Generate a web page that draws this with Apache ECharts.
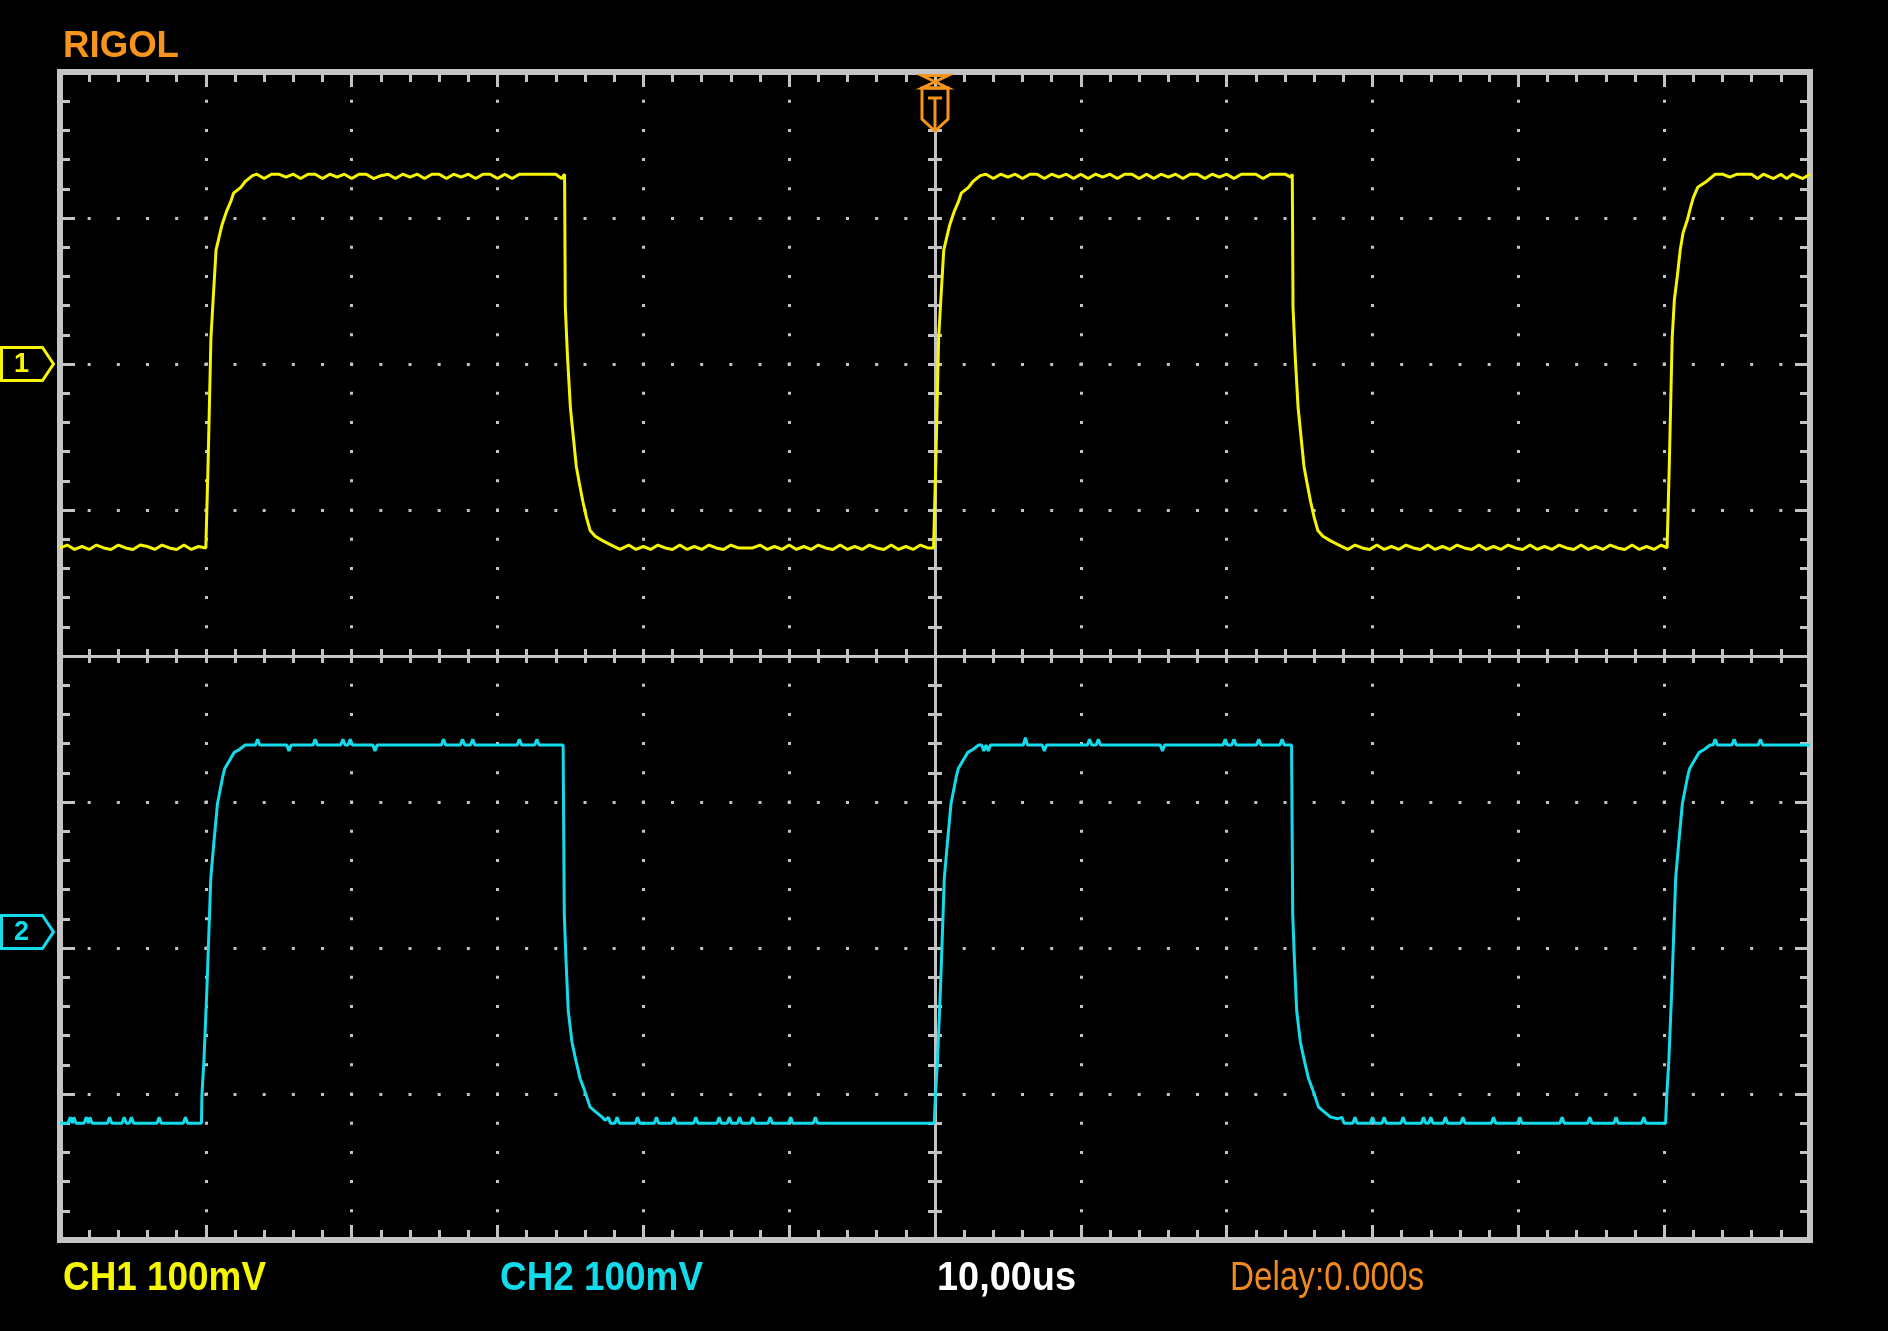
<!DOCTYPE html>
<html><head><meta charset="utf-8">
<script src="https://cdn.jsdelivr.net/npm/echarts@6/dist/echarts.min.js"></script>
<style>html,body{margin:0;padding:0;background:#000;}#c{width:1888px;height:1331px;}</style>
</head><body><div id="c"></div>
<script>
// ---- data (time in µs, amplitude in mV) ----
const timeRange = [-60, 60];          // 10 µs/div, 12 divisions
const divRange = [-4, 4];             // 8 vertical divisions
const ch1Range = [-600, 200];         // CH1 100 mV/div, ground 2 div above centre
const ch2Range = [-211, 589];         // CH2 100 mV/div, ground 1.89 div below centre
const infoTexts = ['CH1 100mV', 'CH2 100mV', '10,00us', 'Delay:0.000s'];
const brandText = 'RIGOL';
const channelLabels = ['1', '2'];

const ch1Trace = [
[-60,-126],[-59.5,-124],[-59,-127],[-58.5,-125],[-58,-127],[-57.5,-124],[-57,-126],[-56.5,-127],[-56,-124],[-55.5,-126],[-55,-127],[-54.5,-124],[-54,-125],[-53.5,-127],[-53,-124],[-52.5,-126],[-52,-127],[-51.5,-124],[-51,-127],[-50.5,-125],[-50,-126],
[-49.9,-126],[-49.85,-70],[-49.65,18],[-49.5,44],[-49.3,78],[-48.9,95],[-48.6,104],[-48.3,111],[-48.1,117],[-47.6,121],[-47.3,125],[-46.8,129],
[-46.5,130],[-46,127],[-45.5,130],[-45,130],[-44.5,128],[-44,130],[-43.5,127],[-43,130],[-42.5,130],[-42,127],[-41.5,130],[-41,128],[-40.5,130],[-40,127],[-39.5,130],[-39,130],[-38.5,127],[-38,129],[-37.5,130],[-37,127],[-36.5,130],[-36,128],[-35.5,130],[-35,127],[-34.5,130],[-34,130],[-33.5,127],[-33,130],[-32.5,128],[-32,130],[-31.5,127],[-31,130],[-30.5,130],[-30,127],[-29.5,130],[-29,127],[-28.5,130],[-28,130],[-27.5,130],[-27,130],[-26.5,130],[-26,130],[-25.6,127],
[-25.4,130],[-25.35,39],[-25.2,5],[-25,-30],[-24.8,-50],[-24.6,-70],[-24.4,-81],[-24.15,-94],[-23.9,-105],[-23.65,-114],[-23.3,-118],[-22.8,-121],[-22.2,-124],[-21.6,-127],
[-21,-124],[-20.5,-127],[-20,-125],[-19.5,-127],[-19,-124],[-18.5,-126],[-18,-127],[-17.5,-124],[-17,-127],[-16.5,-125],[-16,-127],[-15.5,-124],[-15,-126],[-14.5,-127],[-14,-124],[-13.5,-126],[-13,-126],[-12.5,-126],[-12,-124],[-11.5,-127],[-11,-125],[-10.5,-127],[-10,-124],[-9.5,-127],[-9,-125],[-8.5,-127],[-8,-124],[-7.5,-126],[-7,-127],[-6.5,-124],[-6,-127],[-5.5,-125],[-5,-127],[-4.5,-124],[-4,-126],[-3.5,-127],[-3,-124],[-2.5,-127],[-2,-125],[-1.5,-127],[-1,-124],[-0.5,-126],[-0.1,-126],
[0,-126],[0.05,-70],[0.25,18],[0.4,44],[0.6,78],[1,95],[1.3,104],[1.6,111],[1.8,117],[2.3,121],[2.6,125],[3.1,129],
[3.5,130],[4,127],[4.5,130],[5,128],[5.5,130],[6,127],[6.5,130],[7,130],[7.5,127],[8,130],[8.5,128],[9,130],[9.5,127],[10,130],[10.5,127],[11,130],[11.5,128],[12,130],[12.5,127],[13,130],[13.5,130],[14,127],[14.5,130],[15,127],[15.5,130],[16,128],[16.5,130],[17,127],[17.5,130],[18,130],[18.5,127],[19,130],[19.5,128],[20,130],[20.5,127],[21,130],[21.5,130],[22,130],[22.5,127],[23,130],[23.5,130],[24,130],[24.4,128],
[24.5,130],[24.55,39],[24.7,5],[24.9,-30],[25.1,-50],[25.3,-70],[25.5,-81],[25.75,-94],[26,-105],[26.25,-114],[26.6,-118],[27.1,-121],[27.7,-124],[28.3,-127],
[28.8,-124],[29.3,-126],[29.8,-127],[30.3,-124],[30.8,-127],[31.3,-125],[31.8,-127],[32.3,-124],[32.8,-126],[33.3,-127],[33.8,-124],[34.3,-127],[34.8,-125],[35.3,-127],[35.8,-124],[36.3,-126],[36.8,-127],[37.3,-124],[37.8,-127],[38.3,-125],[38.8,-127],[39.3,-124],[39.8,-126],[40.3,-127],[40.8,-124],[41.3,-127],[41.8,-125],[42.3,-127],[42.8,-124],[43.3,-126],[43.8,-127],[44.3,-124],[44.8,-127],[45.3,-125],[45.8,-127],[46.3,-124],[46.8,-126],[47.3,-127],[47.8,-124],[48.3,-127],[48.8,-125],[49.3,-127],[49.8,-124],[50.2,-126],
[50.3,-126],[50.35,-70],[50.55,18],[50.7,44],[50.9,60],[51.1,78],[51.3,90],[51.6,99],[51.8,107],[52,114],[52.3,121],[52.9,125],[53.5,130],
[54,130],[54.5,128],[55,130],[55.5,130],[56,130],[56.4,127],[56.8,130],[57.5,127],[58,130],[58.4,127],[58.8,130],[59.5,127],[60,130]
];

const ch2Trace = [
[-60,-131],[-59.45,-131],[-59.3,-127],[-59.15,-131],[-59.05,-127],[-58.9,-131],[-58.35,-131],[-58.2,-127],[-58.05,-131],[-57.95,-127],[-57.8,-131],[-56.75,-131],[-56.6,-127],[-56.45,-131],[-55.75,-131],[-55.6,-127],[-55.45,-131],[-55.25,-131],[-55.1,-127],[-54.95,-131],[-53.35,-131],[-53.2,-127],[-53.05,-131],[-51.55,-131],[-51.4,-127],[-51.25,-131],[-50.3,-131],
[-50.27,-112],[-50.13,-88],[-49.93,-40],[-49.66,37],[-49.45,61],[-49.2,88],[-48.85,106],[-48.7,112],[-48.35,118],[-48.05,123],[-47.7,125],[-47.3,128],
[-46.6,128],[-46.45,132],[-46.3,128],[-44.45,128],[-44.3,124],[-44.15,128],[-42.65,128],[-42.5,132],[-42.35,128],[-40.75,128],[-40.6,132],[-40.45,128],[-40.25,128],[-40.1,132],[-39.95,128],[-38.55,128],[-38.4,124],[-38.25,128],[-33.85,128],[-33.7,132],[-33.55,128],[-32.55,128],[-32.4,132],[-32.25,128],[-31.85,128],[-31.7,132],[-31.55,128],[-28.65,128],[-28.5,132],[-28.35,128],[-27.45,128],[-27.3,132],[-27.15,128],[-25.5,128],
[-25.45,128],[-25.42,12],[-25.3,-20],[-25.15,-54],[-24.9,-75],[-24.65,-87],[-24.35,-100],[-24.05,-108],[-23.65,-120],[-22.85,-126.7],[-22.6,-129],[-22.4,-127],[-22.25,-131],
[-21.95,-131],[-21.8,-127],[-21.65,-131],[-20.55,-131],[-20.4,-127],[-20.25,-131],[-19.25,-131],[-19.1,-127],[-18.95,-131],[-18.05,-131],[-17.9,-127],[-17.75,-131],[-16.55,-131],[-16.4,-127],[-16.25,-131],[-14.95,-131],[-14.8,-127],[-14.65,-131],[-14.25,-131],[-14.1,-127],[-13.95,-131],[-13.55,-131],[-13.4,-127],[-13.25,-131],[-12.65,-131],[-12.5,-127],[-12.35,-131],[-11.45,-131],[-11.3,-127],[-11.15,-131],[-10.05,-131],[-9.9,-127],[-9.75,-131],[-8.35,-131],[-8.2,-127],[-8.05,-131],[-0.05,-131],
[0,-131],[0.03,-112],[0.17,-88],[0.37,-40],[0.64,37],[0.85,61],[1.1,88],[1.45,106],[1.6,112],[1.95,118],[2.25,123],[2.6,125],[3,128],
[3.2,128],[3.35,124],[3.5,128],[3.65,124],[3.8,128],[6.05,128],[6.2,133],[6.35,128],[7.35,128],[7.5,124],[7.65,128],[10.45,128],[10.6,132],[10.75,128],[11.05,128],[11.2,132],[11.35,128],[15.45,128],[15.6,124],[15.75,128],[19.75,128],[19.9,132],[20.05,128],[20.35,128],[20.5,132],[20.65,128],[22.05,128],[22.2,132],[22.35,128],[23.65,128],[23.8,132],[23.95,128],[24.45,128],
[24.5,128],[24.53,12],[24.65,-20],[24.8,-54],[25.05,-75],[25.3,-87],[25.6,-100],[25.9,-108],[26.3,-120],[27.1,-126.7],[27.6,-128],[27.9,-127],[28.05,-131],
[28.65,-131],[28.8,-127],[28.95,-131],[29.85,-131],[30,-127],[30.15,-131],[30.65,-131],[30.8,-127],[30.95,-131],[31.95,-131],[32.1,-127],[32.25,-131],[33.35,-131],[33.5,-127],[33.65,-131],[33.85,-131],[34,-127],[34.15,-131],[34.85,-131],[35,-127],[35.15,-131],[36.05,-131],[36.2,-127],[36.35,-131],[38.15,-131],[38.3,-127],[38.45,-131],[39.95,-131],[40.1,-127],[40.25,-131],[42.85,-131],[43,-127],[43.15,-131],[44.75,-131],[44.9,-127],[45.05,-131],[46.55,-131],[46.7,-127],[46.85,-131],[48.45,-131],[48.6,-127],[48.75,-131],[50.1,-131],
[50.15,-131],[50.18,-112],[50.32,-88],[50.52,-40],[50.79,37],[51,61],[51.25,88],[51.6,106],[51.75,112],[52.1,118],[52.4,123],[52.75,125],[53.15,128],
[53.35,128],[53.5,132],[53.65,128],[54.65,128],[54.8,132],[54.95,128],[56.45,128],[56.6,132],[56.75,128],[60,128]
];

// ---- styling ----
const GRAY = '#c4c4c4', YEL = '#f6f600', CYAN = '#12dcec', ORANGE = '#f7941d';
const G = {left: 60, top: 72, width: 1750, height: 1168};
const minorX = G.width / 60, minorY = G.height / 40;

function tickAxis(extra, range, step) {
  return Object.assign({
    type: 'value', min: range[0], max: range[1], interval: step,
    axisLabel: {show: false},
    axisLine: {show: false, onZero: false},
    axisTick: {show: true, inside: true, length: 15, lineStyle: {color: GRAY, width: 3}},
    minorTick: {show: true, splitNumber: 5, length: 10, lineStyle: {color: GRAY, width: 3}},
    splitLine: {show: false}
  }, extra);
}
function centerAxis(extra, range, step, inside) {
  return Object.assign({
    type: 'value', min: range[0], max: range[1], interval: step,
    axisLabel: {show: false},
    axisLine: {show: true, onZero: true, onZeroAxisIndex: 0, lineStyle: {color: GRAY, width: 3}},
    axisTick: {show: true, inside: inside, length: 7, lineStyle: {color: GRAY, width: 3}},
    minorTick: {show: true, splitNumber: 5, length: 7, lineStyle: {color: GRAY, width: 3}},
    splitLine: {show: false}
  }, extra);
}

const chart = echarts.init(document.getElementById('c'), null, {renderer: 'canvas'});
chart.setOption({
  backgroundColor: '#000',
  animation: false,
  grid: Object.assign({show: true, borderColor: GRAY, borderWidth: 6, backgroundColor: 'transparent', outerBoundsMode: 'none'}, G),
  xAxis: [
    tickAxis({position: 'bottom', splitLine: {show: true, lineStyle: {color: GRAY, width: 3, type: [3, minorY - 3], dashOffset: 1.5}}}, timeRange, 10),
    tickAxis({position: 'top'}, timeRange, 10),
    centerAxis({position: 'bottom'}, timeRange, 10, true),
    centerAxis({position: 'bottom'}, timeRange, 10, false)
  ],
  yAxis: [
    tickAxis({position: 'left', splitLine: {show: true, lineStyle: {color: GRAY, width: 3, type: [3, minorX - 3], dashOffset: 1.5}}}, divRange, 1),
    tickAxis({position: 'right'}, divRange, 1),
    centerAxis({position: 'left'}, divRange, 1, true),
    centerAxis({position: 'left'}, divRange, 1, false),
    {type: 'value', show: false, min: ch1Range[0], max: ch1Range[1], axisLine: {onZero: false}, splitLine: {show: false}},
    {type: 'value', show: false, min: ch2Range[0], max: ch2Range[1], axisLine: {onZero: false}, splitLine: {show: false}}
  ],
  series: [
    {type: 'line', name: 'CH1', xAxisIndex: 0, yAxisIndex: 4, data: ch1Trace, symbol: 'none', showSymbol: false,
     lineStyle: {color: YEL, width: 3}, itemStyle: {color: YEL}, z: 3, clip: false},
    {type: 'line', name: 'CH2', xAxisIndex: 0, yAxisIndex: 5, data: ch2Trace, symbol: 'none', showSymbol: false,
     lineStyle: {color: CYAN, width: 3}, itemStyle: {color: CYAN}, z: 3, clip: false}
  ]
});

// ---- decorations placed from axis positions ----
function marker(yAxisIndex, color, label) {
  const p = chart.convertToPixel({xAxisIndex: 0, yAxisIndex: yAxisIndex}, [timeRange[0], 0]);
  const L = p[0] - 58.5, y = p[1];
  return [
    {type: 'polygon', z: 50, shape: {points: [[L, y - 16.5], [L + 41, y - 16.5], [L + 52, y], [L + 41, y + 16.5], [L, y + 16.5]]},
     style: {fill: '#000', stroke: color, lineWidth: 3}},
    {type: 'text', z: 51, x: L + 20, y: y + 1,
     style: {text: label, font: 'bold 27px "Liberation Sans", sans-serif', fill: color, align: 'center', verticalAlign: 'middle', textAlign: 'center', textVerticalAlign: 'middle'}}
  ];
}
const tp = chart.convertToPixel({xAxisIndex: 0, yAxisIndex: 4}, [0, ch1Range[1]]);
const cx = tp[0], ty = tp[1];
const trig = [
  {type: 'polygon', z: 50, shape: {points: [[cx - 13, ty + 16], [cx - 13, ty + 47], [cx, ty + 59], [cx + 13, ty + 47], [cx + 13, ty + 16]]},
   style: {fill: '#000', stroke: ORANGE, lineWidth: 3}},
  {type: 'polygon', z: 50, shape: {points: [[cx - 13, ty + 3.5], [cx + 13, ty + 3.5], [cx - 13, ty + 16], [cx + 13, ty + 16]]},
   style: {fill: 'none', stroke: ORANGE, lineWidth: 3}},
  {type: 'line', z: 51, shape: {x1: cx - 7, y1: ty + 26, x2: cx + 7, y2: ty + 26}, style: {stroke: ORANGE, lineWidth: 3}},
  {type: 'line', z: 51, shape: {x1: cx, y1: ty + 26, x2: cx, y2: ty + 57}, style: {stroke: ORANGE, lineWidth: 3}}
];
const measureCtx = document.createElement('canvas').getContext('2d');
function txt(x, y, s, color, font, targetW) {
  measureCtx.font = font;
  const w = measureCtx.measureText(s).width;
  return {type: 'text', z: 60, x: x, y: y, scaleX: targetW / w, scaleY: 1,
    style: {text: s, font: font, fill: color, align: 'left', verticalAlign: 'middle', textAlign: 'left', textVerticalAlign: 'middle'}};
}
const boldF = 'bold 40px "Liberation Sans", Arial, sans-serif';
const thinF = '40px "Liberation Sans", Arial, sans-serif';
chart.setOption({
  graphic: [].concat(
    marker(4, YEL, channelLabels[0]),
    marker(5, CYAN, channelLabels[1]),
    trig,
    [
      txt(63, 47, brandText, ORANGE, 'bold 37px "Liberation Sans", Arial, sans-serif', 116),
      txt(63, 1279, infoTexts[0], YEL, boldF, 203),
      txt(500, 1279, infoTexts[1], CYAN, boldF, 203),
      txt(937, 1279, infoTexts[2], '#ffffff', boldF, 139),
      txt(1230, 1279, infoTexts[3], '#f08a1c', thinF, 194)
    ]
  )
});
</script></body></html>
